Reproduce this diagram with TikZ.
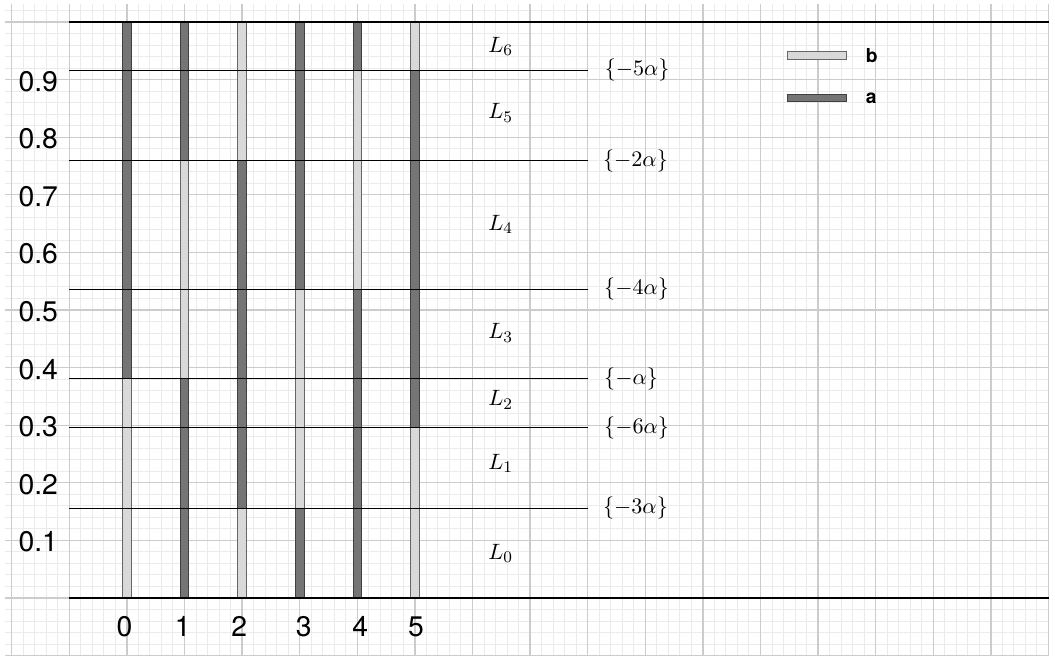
\documentclass[tikz,border=0pt]{standalone}
\usepackage{amsmath,amssymb}
\usepackage{fontspec}
\setsansfont{TeX Gyre Heros}
\usepackage{xcolor}
\usepackage{tikz}
\usetikzlibrary{positioning}

\begin{document}
\begin{tikzpicture}[
  minorgrid/.style={draw=black!8, line width=0.5pt},
  majorgrid/.style={draw=black!20, line width=0.6pt},
  level/.style={line width=0.65pt},
  bara/.style={draw=black!75, fill=black!54, line width=0.4pt},
  barb/.style={draw=black!60, fill=black!15, line width=0.4pt},
  swatch/.style={minimum width=1.02cm, minimum height=0.13cm, inner sep=0pt},
  ticklabel/.style={font=\fontsize{14}{16}\sffamily, inner sep=0pt},
  bandlabel/.style={font=\fontsize{11}{13}\selectfont, inner sep=0pt},
  cutlabel/.style={font=\fontsize{11}{13}\selectfont, inner sep=0pt},
  keylabel/.style={font=\fontsize{9.5}{11}\sffamily\bfseries, inner sep=0pt}
]
  \useasboundingbox (-2.203,-1.007) rectangle (16.113,10.382);
  \draw[minorgrid, step=0.2] (-2.11,-1) grid (16.01,10.31);
  \draw[majorgrid, step=1] (-2.11,-1) grid (16.01,10.31);

  \draw[barb] (-0.075,0) rectangle (0.075,3.807);
  \draw[bara] (-0.075,3.807) rectangle (0.075,10);
  \draw[bara] (0.925,0) rectangle (1.075,3.807);
  \draw[barb] (0.925,3.807) rectangle (1.075,7.592);
  \draw[bara] (0.925,7.592) rectangle (1.075,10);
  \draw[barb] (1.925,0) rectangle (2.075,1.557);
  \draw[bara] (1.925,1.557) rectangle (2.075,7.592);
  \draw[barb] (1.925,7.592) rectangle (2.075,10);
  \draw[bara] (2.925,0) rectangle (3.075,1.557);
  \draw[barb] (2.925,1.557) rectangle (3.075,5.359);
  \draw[bara] (2.925,5.359) rectangle (3.075,10);
  \draw[bara] (3.925,0) rectangle (4.075,5.359);
  \draw[barb] (3.925,5.359) rectangle (4.075,9.161);
  \draw[bara] (3.925,9.161) rectangle (4.075,10);
  \draw[barb] (4.925,0) rectangle (5.075,2.957);
  \draw[bara] (4.925,2.957) rectangle (5.075,9.161);
  \draw[barb] (4.925,9.161) rectangle (5.075,10);

  \coordinate (c1) at (8,1.557);
  \coordinate (c2) at (8,2.957);
  \coordinate (c3) at (8,3.807);
  \coordinate (c4) at (8,5.359);
  \coordinate (c5) at (8,7.592);
  \coordinate (c6) at (8,9.161);

  \draw[level] (-1,0) -- (16,0);
  \draw[level] (-1,10) -- (16,10);
  \draw[level] (-1,1.557) -- (c1);
  \draw[level] (-1,2.957) -- (c2);
  \draw[level] (-1,3.807) -- (c3);
  \draw[level] (-1,5.359) -- (c4);
  \draw[level] (-1,7.592) -- (c5);
  \draw[level] (-1,9.161) -- (c6);

  \node[cutlabel, right=0.26cm of c1] (m3) {$\{-3\alpha\}$};
  \node[cutlabel, right=0.28cm of c2] (m6) {$\{-6\alpha\}$};
  \node[cutlabel, right=0.28cm of c3] (m1) {$\{-\alpha\}$};
  \node[cutlabel, right=0.28cm of c4] (m4) {$\{-4\alpha\}$};
  \node[cutlabel, right=0.26cm of c5] (m2) {$\{-2\alpha\}$};
  \node[cutlabel, right=0.29cm of c6] (m5) {$\{-5\alpha\}$};

  \node[bandlabel] (l0) at (6.49,0.77) {$L_0$};
  \node[bandlabel] (l1) at (6.49,2.34) {$L_1$};
  \node[bandlabel] (l2) at (6.49,3.44) {$L_2$};
  \node[bandlabel] (l3) at (6.49,4.60) {$L_3$};
  \node[bandlabel] (l4) at (6.49,6.49) {$L_4$};
  \node[bandlabel] (l5) at (6.49,8.42) {$L_5$};
  \node[bandlabel] (l6) at (6.49,9.58) {$L_6$};

  \node[ticklabel, anchor=east] (y1) at (-1.19,0.97) {0.1};
  \node[ticklabel, anchor=east] (y2) at (-1.19,1.97) {0.2};
  \node[ticklabel, anchor=east] (y3) at (-1.19,2.97) {0.3};
  \node[ticklabel, anchor=east] (y4) at (-1.19,3.97) {0.4};
  \node[ticklabel, anchor=east] (y5) at (-1.19,4.97) {0.5};
  \node[ticklabel, anchor=east] (y6) at (-1.19,5.97) {0.6};
  \node[ticklabel, anchor=east] (y7) at (-1.19,6.97) {0.7};
  \node[ticklabel, anchor=east] (y8) at (-1.19,7.97) {0.8};
  \node[ticklabel, anchor=east] (y9) at (-1.19,8.97) {0.9};

  \node[ticklabel] (x0) at (-0.04,-0.5) {0};
  \node[ticklabel] (x1) at (0.97,-0.5) {1};
  \node[ticklabel] (x2) at (1.95,-0.5) {2};
  \node[ticklabel] (x3) at (3.07,-0.5) {3};
  \node[ticklabel] (x4) at (4.05,-0.5) {4};
  \node[ticklabel] (x5) at (5.02,-0.5) {5};

  \node[swatch, barb] (swb) at (11.975,9.424) {};
  \node[swatch, bara] (swa) at (11.975,8.678) {};
  \node[keylabel, right=0.33cm of swb] (kb) {b};
  \node[keylabel, right=0.33cm of swa] (ka) {a};
\end{tikzpicture}
\end{document}
